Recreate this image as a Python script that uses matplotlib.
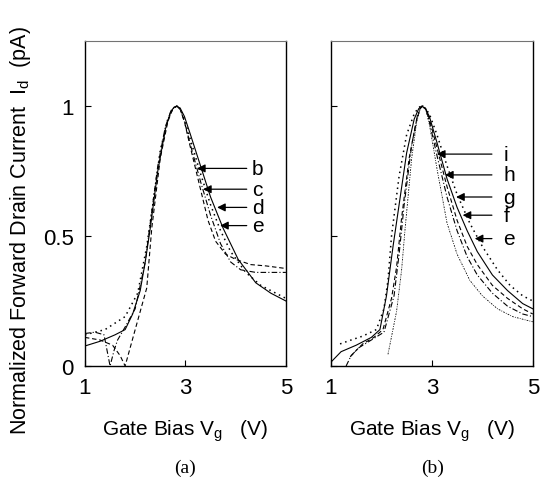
import numpy as np
import matplotlib.pyplot as plt

plt.rcParams['font.family'] = ['Liberation Sans', 'DejaVu Sans']

# ---- panel (a) curves (Vg, normalized Id)
a_solid_v = [1.0, 1.3, 1.6, 1.8, 1.95, 2.1, 2.2, 2.3, 2.45, 2.6, 2.7, 2.77, 2.83, 2.9, 2.98, 3.1, 3.3, 3.5, 3.75, 4.05, 4.4, 4.7, 5.0]
a_solid_i = [0.077, 0.095, 0.12, 0.14, 0.2, 0.29, 0.4, 0.53, 0.75, 0.91, 0.975, 0.995, 1.0, 0.99, 0.96, 0.89, 0.77, 0.65, 0.53, 0.41, 0.32, 0.28, 0.25]

a_dot_v = [1.0, 1.4, 1.8, 2.05, 2.23, 2.35, 2.5, 2.65, 2.75, 2.83, 2.9, 2.98, 3.1, 3.3, 3.5, 3.7, 3.9, 4.2, 4.5, 4.8, 5.0]
a_dot_i = [0.12, 0.14, 0.19, 0.28, 0.46, 0.62, 0.83, 0.95, 0.99, 1.0, 0.99, 0.95, 0.87, 0.74, 0.62, 0.52, 0.44, 0.36, 0.31, 0.28, 0.26]

a_dash_v = [1.0, 1.3, 1.55, 1.7, 1.8, 1.9, 2.0, 2.23, 2.33, 2.5, 2.65, 2.75, 2.83, 2.9, 2.98, 3.1, 3.3, 3.45, 3.6, 3.8, 4.0, 4.3, 4.6, 4.8, 5.0]
a_dash_i = [0.11, 0.10, 0.08, 0.04, 0.0, 0.07, 0.14, 0.30, 0.53, 0.8, 0.94, 0.99, 1.0, 0.985, 0.94, 0.84, 0.68, 0.56, 0.48, 0.43, 0.41, 0.39, 0.385, 0.38, 0.375]

a_dd_v = [1.0, 1.2, 1.38, 1.45, 1.5, 1.58, 1.65, 1.8, 2.0, 2.2, 2.3, 2.45, 2.6, 2.72, 2.83, 2.9, 2.98, 3.1, 3.3, 3.5, 3.7, 3.9, 4.1, 4.4, 5.0]
a_dd_i = [0.125, 0.13, 0.12, 0.05, 0.0, 0.06, 0.1, 0.15, 0.22, 0.4, 0.55, 0.77, 0.92, 0.985, 1.0, 0.985, 0.94, 0.85, 0.71, 0.58, 0.47, 0.40, 0.37, 0.36, 0.36]

# ---- panel (b) curves
b_solid_v = [1.0, 1.2, 1.5, 1.8, 1.97, 2.1, 2.23, 2.35, 2.5, 2.65, 2.74, 2.8, 2.87, 2.95, 3.1, 3.3, 3.5, 3.7, 3.9, 4.2, 4.5, 4.8, 5.0]
b_solid_i = [0.015, 0.055, 0.08, 0.11, 0.14, 0.27, 0.46, 0.62, 0.82, 0.95, 0.99, 1.0, 0.99, 0.96, 0.86, 0.72, 0.61, 0.52, 0.44, 0.35, 0.29, 0.24, 0.22]

b_dot_v = [1.18, 1.4, 1.63, 1.9, 2.05, 2.13, 2.2, 2.35, 2.5, 2.65, 2.74, 2.8, 2.87, 2.95, 3.1, 3.3, 3.5, 3.75, 4.0, 4.3, 4.55, 4.8, 5.0]
b_dot_i = [0.085, 0.1, 0.115, 0.14, 0.22, 0.33, 0.5, 0.73, 0.89, 0.97, 0.995, 1.0, 0.99, 0.97, 0.89, 0.77, 0.66, 0.55, 0.46, 0.37, 0.31, 0.27, 0.25]

b_dash_v = [1.38, 1.5, 1.63, 1.85, 2.03, 2.2, 2.3, 2.4, 2.55, 2.7, 2.77, 2.82, 2.88, 2.95, 3.1, 3.3, 3.5, 3.7, 3.9, 4.2, 4.5, 4.8, 5.0]
b_dash_i = [0.035, 0.06, 0.085, 0.11, 0.14, 0.26, 0.38, 0.57, 0.8, 0.95, 0.99, 1.0, 0.99, 0.95, 0.84, 0.69, 0.56, 0.46, 0.39, 0.31, 0.26, 0.22, 0.20]

b_dd_v = [1.3, 1.4, 1.55, 1.8, 2.05, 2.25, 2.35, 2.45, 2.6, 2.72, 2.78, 2.82, 2.88, 2.95, 3.1, 3.3, 3.5, 3.7, 3.9, 4.2, 4.5, 4.8, 5.0]
b_dd_i = [0.0, 0.04, 0.07, 0.1, 0.13, 0.27, 0.43, 0.62, 0.85, 0.97, 0.995, 1.0, 0.99, 0.94, 0.81, 0.65, 0.52, 0.42, 0.35, 0.28, 0.23, 0.2, 0.19]

b_fine_v = [2.13, 2.3, 2.4, 2.47, 2.6, 2.7, 2.77, 2.82, 2.88, 2.95, 3.1, 3.3, 3.5, 3.75, 4.0, 4.3, 4.6, 5.0]
b_fine_i = [0.045, 0.21, 0.37, 0.53, 0.8, 0.94, 0.99, 1.0, 0.985, 0.93, 0.76, 0.55, 0.43, 0.33, 0.27, 0.22, 0.19, 0.17]

# arrow labels: letter, tip (V, I)
a_labels = ['b', 'c', 'd', 'e']
a_tip_v = [3.23, 3.35, 3.63, 3.69]
a_tip_i = [0.76, 0.68, 0.61, 0.54]

b_labels = ['i', 'h', 'g', 'f', 'e']
b_tip_v = [3.1, 3.26, 3.48, 3.61, 3.85]
b_tip_i = [0.815, 0.735, 0.65, 0.58, 0.49]

fig = plt.figure(figsize=(5.41, 4.89), dpi=100)
ax1 = fig.add_axes([0.157, 0.2495, 0.3715, 0.6646])
ax2 = fig.add_axes([0.6118, 0.2495, 0.373, 0.6646])

lw = 0.8
ax1.plot(a_solid_v, a_solid_i, color='k', lw=lw)
ax1.plot(a_dot_v, a_dot_i, color='k', lw=1.1, linestyle=(0, (1, 2.5)))
ax1.plot(a_dash_v, a_dash_i, color='k', lw=lw, linestyle=(0, (4, 2.5)))
ax1.plot(a_dd_v, a_dd_i, color='k', lw=lw, linestyle=(0, (5, 2, 1, 2)))

ax2.plot(b_solid_v, b_solid_i, color='k', lw=lw)
ax2.plot(b_dot_v, b_dot_i, color='k', lw=1.1, linestyle=(0, (1, 2.5)))
ax2.plot(b_dash_v, b_dash_i, color='k', lw=lw, linestyle=(0, (4, 2.5)))
ax2.plot(b_dd_v, b_dd_i, color='k', lw=lw, linestyle=(0, (5, 2, 1, 2)))
ax2.plot(b_fine_v, b_fine_i, color='k', lw=0.6, linestyle=(0, (2, 1.5, 1, 1.5)))

arrow = dict(arrowstyle='-|>', color='k', lw=0.9, mutation_scale=12, shrinkA=0, shrinkB=0)
for lab, tv, ti in zip(a_labels, a_tip_v, a_tip_i):
    ax1.annotate('', xy=(tv, ti), xytext=(4.22, ti), arrowprops=arrow)
    ax1.text(4.32, ti, lab, fontsize=15, ha='left', va='center')
for lab, tv, ti in zip(b_labels, b_tip_v, b_tip_i):
    ax2.annotate('', xy=(tv, ti), xytext=(4.19, ti), arrowprops=arrow)
    ax2.text(4.42, ti, lab, fontsize=15, ha='left', va='center')

for ax in (ax1, ax2):
    ax.set_xlim(1, 5)
    ax.set_ylim(0, 1.25)
    ax.set_xticks([1, 3, 5])
    ax.set_yticks([0, 0.5, 1])
    ax.tick_params(direction='in', length=4, width=0.8, labelsize=16, pad=8)
    for s in ax.spines.values():
        s.set_linewidth(1.0)
    ax.spines['top'].set_color('0.45')
    ax.spines['top'].set_linewidth(0.8)

ax1.set_yticklabels(['0', '0.5', '1'])
ax2.set_yticklabels([])

ax1.set_xlabel('Gate Bias V$_\\mathregular{g}$   (V)', fontsize=15, labelpad=14)
ax2.set_xlabel('Gate Bias V$_\\mathregular{g}$   (V)', fontsize=15, labelpad=14)
ax1.set_ylabel('Normalized Forward Drain Current  I$_\\mathregular{d}$  (pA)', fontsize=15.5)
ax1.yaxis.set_label_coords(-0.26, 0.42)

fig.text(0.342, 0.043, '(a)', fontsize=14, family='Liberation Serif', ha='center', va='center')
fig.text(0.80, 0.043, '(b)', fontsize=14, family='Liberation Serif', ha='center', va='center')

fig.savefig('out.png', dpi=100)
